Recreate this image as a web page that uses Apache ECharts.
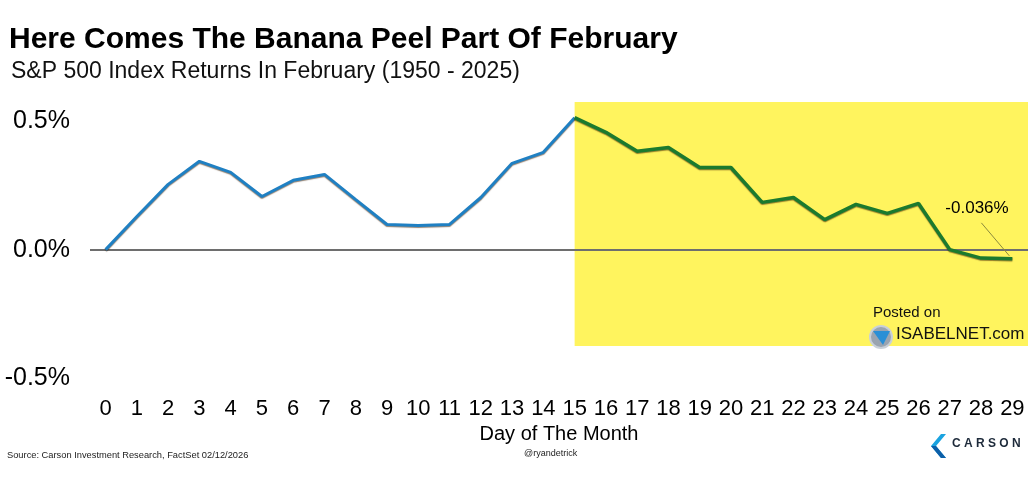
<!DOCTYPE html>
<html>
<head>
<meta charset="utf-8">
<script src="https://cdn.jsdelivr.net/npm/echarts@6/dist/echarts.min.js"></script>
<style>
html,body{margin:0;padding:0;background:#fff;}
#chart{width:1030px;height:479px;}
</style>
</head>
<body>
<div id="chart"></div>
<script>
var days = ['0','1','2','3','4','5','6','7','8','9','10','11','12','13','14','15','16','17','18','19','20','21','22','23','24','25','26','27','28','29'];
var returns = [0.000,0.129,0.254,0.344,0.301,0.207,0.270,0.293,0.195,0.098,0.094,0.098,0.203,0.336,0.379,0.514,0.457,0.383,0.398,0.320,0.320,0.184,0.203,0.117,0.176,0.141,0.180,0.000,-0.033,-0.036];
var splitDay = 15;
var highlightBottom = -0.375;
var yTicks = [-0.5, 0, 0.5];
var lastLabel = '-0.036%';

var firstHalf = returns.map(function(v,i){ return i <= splitDay ? v : null; });
var secondHalf = returns.map(function(v,i){ return i >= splitDay ? v : null; });

var narrow = '"Liberation Sans Narrow","Arial Narrow","Liberation Sans",Arial,sans-serif';
var sans = '"Liberation Sans",Arial,sans-serif';

var chart = echarts.init(document.getElementById('chart'));
var lineShadow = {shadowColor:'rgba(60,30,0,0.55)', shadowBlur:1, shadowOffsetX:0, shadowOffsetY:1};

chart.setOption({
  animation:false,
  backgroundColor:'#fff',
  title:[
    {text:'Here Comes The Banana Peel Part Of February', left:4, top:20,
     textStyle:{fontFamily:sans, fontWeight:'bold', fontSize:30, color:'#000'}},
    {text:'S&P 500 Index Returns In February (1950 - 2025)', left:6, top:55,
     textStyle:{fontFamily:sans, fontWeight:'normal', fontSize:23, color:'#111'}}
  ],
  grid:{left:90, right:2, top:102, bottom:101},
  xAxis:{
    type:'category', data:days, boundaryGap:true,
    axisLine:{show:false}, axisTick:{show:false}, splitLine:{show:false},
    axisLabel:{fontFamily:narrow, fontSize:22, color:'#000', margin:20, interval:0},
    name:'Day of The Month', nameLocation:'middle', nameGap:44,
    nameTextStyle:{fontFamily:narrow, fontSize:20, color:'#000'}
  },
  yAxis:{
    type:'value', min:-0.5, max:0.575, interval:0.5,
    axisLine:{show:false}, axisTick:{show:false}, splitLine:{show:false},
    axisLabel:{fontFamily:sans, fontSize:25, color:'#000', margin:20, showMaxLabel:false,
      formatter:function(v){ return yTicks.indexOf(v) >= 0 ? v.toFixed(1)+'%' : ''; }}
  },
  series:[
    {type:'line', data:firstHalf, symbol:'none', z:3, connectNulls:false,
     lineStyle:Object.assign({color:'#1f80c3', width:3}, lineShadow),
     markLine:{silent:true, symbol:'none', label:{show:false}, z:1,
       lineStyle:{color:'#6e6e6e', width:2, type:'solid'}, data:[{yAxis:0}]}},
    {type:'line', data:secondHalf, symbol:'none', z:4,
     lineStyle:Object.assign({color:'#1b7a2e', width:3.5}, lineShadow)}
  ]
});

function px(i, v){ return chart.convertToPixel({xAxisIndex:0, yAxisIndex:0}, [i, v]); }
var gridRect = chart.getModel().getComponent('grid').coordinateSystem.getRect();
var pStart = px(splitDay, 0.575);
var pBottom = px(splitDay, highlightBottom);
var pLast = px(returns.length-1, returns[returns.length-1]);

chart.setOption({
  graphic:[
    {type:'rect', z:-10, silent:true,
     shape:{x:pStart[0], y:gridRect.y, width:gridRect.x+gridRect.width-pStart[0], height:pBottom[1]-gridRect.y},
     style:{fill:'#fff45e'}},
    {type:'text', z:10, left:pLast[0]-67, top:pLast[1]-59,
     style:{text:lastLabel, font:'17px '+sans, fill:'#000'}},
    {type:'line', z:10, shape:{x1:pLast[0]-31, y1:pLast[1]-36, x2:pLast[0]-3, y2:pLast[1]-3},
     style:{stroke:'#8c8a3c', lineWidth:1}},
    {type:'text', z:10, left:873, top:305,
     style:{text:'Posted on', font:'15px '+sans, fill:'#111'}},
    {type:'circle', z:10, shape:{cx:881, cy:337, r:11}, style:{fill:'#9aa4b0', stroke:'#c9d0d8', lineWidth:2}},
    {type:'polygon', z:11, shape:{points:[[873,331],[890,331],[883,345]]}, style:{fill:'#2a8fd6'}},
    {type:'text', z:10, left:896, top:326,
     style:{text:'ISABELNET.com', font:'17px '+sans, fill:'#111'}},
    {type:'text', z:10, left:7, top:451,
     style:{text:'Source: Carson Investment Research, FactSet 02/12/2026', font:'9.3px '+narrow, fill:'#222'}},
    {type:'text', z:10, left:524, top:449,
     style:{text:'@ryandetrick', font:'9px '+narrow, fill:'#222'}},
    {type:'polygon', z:10, shape:{points:[[941,434],[946,434],[936,446],[946,458],[941,458],[931,446]]}, style:{fill:'#1aa3e0'}},
    {type:'polygon', z:10, shape:{points:[[931,446],[936,446],[946,458],[941,458]]}, style:{fill:'#0d5fa8'}},
    {type:'text', z:10, left:952, top:438,
     style:{text:'C A R S O N', font:'bold 12px '+sans, fill:'#1d2a3a'}}
  ]
});
</script>
</body>
</html>
